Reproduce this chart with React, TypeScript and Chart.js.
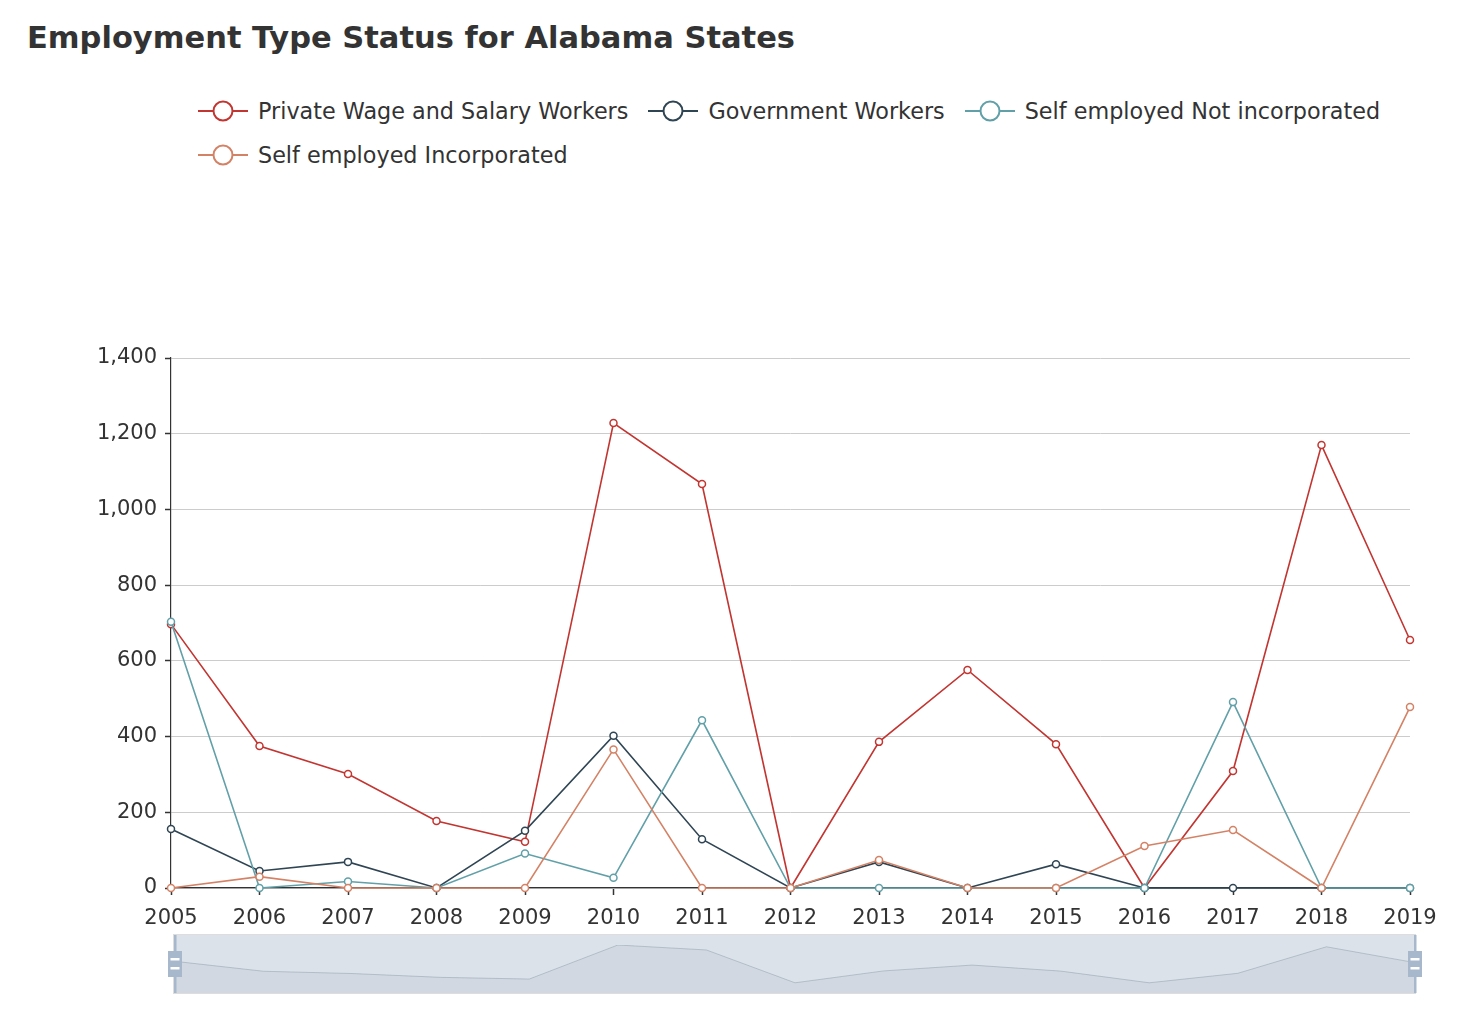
import React, { useEffect, useRef } from "react";
import { Chart, registerables } from "chart.js";

Chart.register(...registerables);

// ---------- data ----------
const TITLE = "Employment Type Status for Alabama States";
const years = ["2005", "2006", "2007", "2008", "2009", "2010", "2011", "2012", "2013", "2014", "2015", "2016", "2017", "2018", "2019"];
const seriesNames = [
  "Private Wage and Salary Workers",
  "Government Workers",
  "Self employed Not incorporated",
  "Self employed Incorporated",
];
const privateWage = [697, 375, 301, 177, 122, 1228, 1067, 0, 386, 576, 380, 0, 309, 1170, 655];
const government = [156, 45, 69, 0, 151, 402, 129, 0, 69, 0, 63, 0, 0, 0, 0];
const selfNotIncorporated = [703, 0, 17, 0, 91, 27, 443, 0, 0, 0, 0, 0, 491, 0, 0];
const selfIncorporated = [0, 30, 0, 0, 0, 366, 0, 0, 74, 0, 0, 111, 153, 0, 478];
const seriesValues = [privateWage, government, selfNotIncorporated, selfIncorporated];
const seriesColors = ["#c23531", "#2f4554", "#61a0a8", "#d48265"];
const yMin = 0;
const yMax = 1400;
const yStep = 200;

const FONT = '"DejaVu Sans", "Liberation Sans", sans-serif';
const TEXT = "#333";

function MainChart() {
  const ref = useRef<HTMLCanvasElement | null>(null);
  useEffect(() => {
    const canvas = ref.current!;
    const chart = new Chart(canvas, {
      type: "line",
      data: {
        labels: years,
        datasets: seriesValues.map((vals, i) => ({
          label: seriesNames[i],
          data: vals,
          borderColor: seriesColors[i],
          backgroundColor: "#fff",
          pointBackgroundColor: "#fff",
          pointBorderColor: seriesColors[i],
          pointRadius: 3.5,
          pointBorderWidth: 1.5,
          borderWidth: 1.6,
          tension: 0,
          fill: false,
          clip: false as any,
          order: seriesNames.length - i,
        })),
      },
      options: {
        responsive: false,
        maintainAspectRatio: false,
        animation: false,
        layout: { padding: { top: 358, left: 0, right: 66, bottom: 0 } },
        plugins: {
          legend: { display: false },
          title: { display: false },
          tooltip: { enabled: false },
        },
        scales: {
          x: {
            type: "category",
            offset: false,
            grid: {
              display: true,
              drawOnChartArea: false,
              drawTicks: true,
              tickLength: 7,
              tickColor: TEXT,
              tickWidth: 1.5,
            },
            border: { display: true, color: TEXT, width: 1.2 },
            ticks: {
              color: TEXT,
              font: { family: FONT, size: 21 },
              padding: 11,
              maxRotation: 0,
              autoSkip: false,
            },
            afterFit: (s: any) => {
              s.height = 46;
            },
          },
          y: {
            min: yMin,
            max: yMax,
            ticks: {
              stepSize: yStep,
              color: TEXT,
              font: { family: FONT, size: 21 },
              padding: 8,
            },
            grid: { color: "#ccc", tickColor: TEXT, tickLength: 6, lineWidth: 1, tickWidth: 1.5 },
            border: { display: true, color: TEXT, width: 1.2 },
            afterFit: (s: any) => {
              s.width = 171;
            },
          },
        },
      },
    });
    return () => chart.destroy();
  }, []);
  return (
    <canvas
      ref={ref}
      width={1476}
      height={934}
      style={{ position: "absolute", left: 0, top: 0, width: 1476, height: 934 }}
    />
  );
}

const sliderFrame = {
  id: "sliderFrame",
  afterDatasetsDraw(chart: any) {
    const { ctx, chartArea } = chart;
    const left = chartArea.left;
    const right = chartArea.right;
    const top = chartArea.top - 10;
    const bottom = chartArea.bottom;
    ctx.save();
    // selected filler over data shadow
    ctx.fillStyle = "rgba(167,183,203,0.4)";
    ctx.fillRect(left, top, right - left, bottom - top);
    // border
    ctx.strokeStyle = "#ddd";
    ctx.lineWidth = 1;
    ctx.strokeRect(left - 1.5, top - 0.5, right - left + 2, bottom - top + 1);
    // handles
    const mid = (top + bottom) / 2;
    [left, right].forEach((x) => {
      ctx.fillStyle = "#a7b7cc";
      ctx.fillRect(x - 1, top, 2.5, bottom - top);
      ctx.fillRect(x - 7, mid - 13, 14, 26);
      ctx.fillStyle = "#fff";
      ctx.fillRect(x - 4.5, mid - 6, 9, 2.5);
      ctx.fillRect(x - 4.5, mid + 3, 9, 2.5);
    });
    ctx.restore();
  },
};

function SliderChart() {
  const ref = useRef<HTMLCanvasElement | null>(null);
  useEffect(() => {
    const canvas = ref.current!;
    const maxVal = Math.max(...privateWage);
    const chart = new Chart(canvas, {
      type: "line",
      data: {
        labels: years,
        datasets: [
          {
            data: privateWage,
            borderColor: "rgba(47,69,84,0.3)",
            borderWidth: 1,
            backgroundColor: "rgba(47,69,84,0.09)",
            fill: "start",
            pointRadius: 0,
            tension: 0,
          },
        ],
      },
      options: {
        responsive: false,
        maintainAspectRatio: false,
        animation: false,
        layout: { padding: { left: 175, right: 61, top: 15, bottom: 5 } },
        plugins: {
          legend: { display: false },
          title: { display: false },
          tooltip: { enabled: false },
        },
        scales: {
          x: { display: false, offset: false },
          y: { display: false, min: -maxVal * 0.27, max: maxVal },
        },
      },
      plugins: [sliderFrame],
    });
    return () => chart.destroy();
  }, []);
  return (
    <canvas
      ref={ref}
      width={1476}
      height={68}
      style={{ position: "absolute", left: 0, top: 930, width: 1476, height: 68 }}
    />
  );
}

function LegendIcon({ color }: { color: string }) {
  return (
    <svg width={50} height={24} style={{ display: "block", flex: "none" }}>
      <line x1={0} y1={12} x2={50} y2={12} stroke={color} strokeWidth={2} />
      <circle cx={25} cy={12} r={9.5} stroke={color} strokeWidth={2} fill="#fff" />
    </svg>
  );
}

export default function App() {
  return (
    <div
      style={{
        position: "absolute",
        left: 0,
        top: 0,
        width: 1476,
        height: 1024,
        background: "#fff",
        overflow: "hidden",
      }}
    >
      <div
        style={{
          position: "absolute",
          left: 27,
          top: 23,
          fontFamily: FONT,
          fontWeight: "bold",
          fontSize: 30.5,
          lineHeight: "30px",
          color: TEXT,
          whiteSpace: "nowrap",
        }}
      >
        {TITLE}
      </div>
      <div
        style={{
          position: "absolute",
          left: 198,
          top: 99,
          width: 1230,
          display: "flex",
          flexWrap: "wrap",
          rowGap: 20,
          columnGap: 20,
          fontFamily: FONT,
          fontSize: 22.3,
          lineHeight: "24px",
          color: TEXT,
        }}
      >
        {seriesNames.map((name, i) => (
          <div key={name} style={{ display: "flex", alignItems: "center", whiteSpace: "nowrap" }}>
            <LegendIcon color={seriesColors[i]} />
            <span style={{ marginLeft: 10 }}>{name}</span>
          </div>
        ))}
      </div>
      <MainChart />
      <SliderChart />
    </div>
  );
}
